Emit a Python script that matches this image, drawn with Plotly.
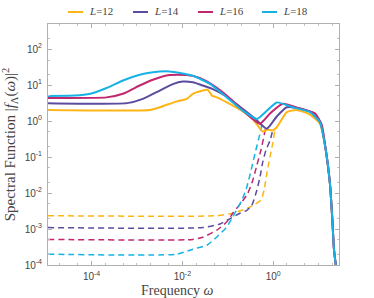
import plotly.graph_objects as go

# log10(omega) and log10(spectral function)
labels = ["L=12", "L=14", "L=16", "L=18"]
colors = ["#FDB515", "#5B4C9E", "#C1276E", "#17B2E5"]

tail_x = [1.16, 1.25, 1.30, 1.34, 1.38]
tail_y = [-0.81, -1.73, -2.67, -3.58, -4.0]

solid_L12_x = [-4.96, -2.72, -2.5, -2.12, -1.90, -1.77, -1.61, -1.44, -1.35, -1.24, -1.02, -0.67, -0.45,
               -0.23, -0.12, -0.01, 0.08, 0.30, 0.52, 0.81, 1.03]
solid_L12_y = [0.31, 0.31, 0.385, 0.55, 0.62, 0.76, 0.83, 0.87, 0.71, 0.66, 0.52, 0.27, 0.06,
               -0.29, -0.23, -0.26, -0.17, 0.25, 0.31, 0.18, -0.075]

solid_L14_x = [-4.96, -3.22, -2.87, -2.5, -2.21, -1.99, -1.77, -1.55, -1.33, -1.06, -0.73, -0.40, -0.14,
               0.08, 0.30, 0.59, 0.92, 1.05]
solid_L14_y = [0.50, 0.50, 0.62, 0.85, 1.03, 1.10, 1.08, 0.99, 0.89, 0.71, 0.40, 0.07, -0.21,
               0.13, 0.385, 0.35, 0.21, -0.08]

solid_L16_x = [-4.96, -3.67, -3.31, -2.94, -2.65, -2.28, -1.90, -1.62, -1.28, -0.95, -0.62, -0.29, -0.07,
               0.21, 0.59, 0.92, 1.07]
solid_L16_y = [0.645, 0.66, 0.76, 0.99, 1.15, 1.28, 1.28, 1.20, 0.96, 0.63, 0.24, -0.075, 0.21,
               0.48, 0.35, 0.21, -0.10]

solid_L18_x = [-4.96, -4.37, -4.03, -3.67, -3.31, -2.94, -2.65, -2.28, -1.77, -1.40, -1.02, -0.67, -0.36,
               -0.14, 0.08, 0.43, 0.81, 1.03]
solid_L18_y = [0.70, 0.71, 0.76, 0.92, 1.13, 1.29, 1.36, 1.38, 1.26, 1.04, 0.66, 0.29, 0.06,
               0.29, 0.52, 0.385, 0.25, -0.03]

dash_L12_x = [-4.96, -1.24, -0.89, -0.58, -0.40, -0.27, -0.20, -0.14, -0.07, -0.01, 0.04, 0.08]
dash_L12_y = [-2.63, -2.63, -2.56, -2.43, -2.31, -2.20, -1.92, -1.45, -1.00, -0.62, -0.26, -0.18]

dash_L14_x = [-4.96, -1.55, -1.17, -0.95, -0.73, -0.58, -0.47, -0.36, -0.29, -0.23, -0.16, -0.07, -0.01]
dash_L14_y = [-2.96, -2.96, -2.86, -2.71, -2.56, -2.48, -2.34, -1.92, -1.55, -1.14, -0.81, -0.54, -0.26]

dash_L16_x = [-4.96, -1.77, -1.55, -1.24, -1.02, -0.89, -0.69, -0.56, -0.45, -0.36, -0.27, -0.20, -0.16]
dash_L16_y = [-3.29, -3.29, -3.23, -3.03, -2.80, -2.56, -2.25, -2.01, -1.65, -1.23, -0.81, -0.40, -0.12]

dash_L18_x = [-4.96, -2.12, -1.77, -1.46, -1.24, -1.02, -0.89, -0.69, -0.58, -0.47, -0.40, -0.29, -0.23]
dash_L18_y = [-3.70, -3.70, -3.56, -3.45, -3.22, -2.94, -2.66, -2.20, -1.83, -1.28, -0.90, -0.34, 0.02]

y_tickvals = [1e-4, 1e-3, 1e-2, 1e-1, 1e0, 1e1, 1e2]
y_ticktext = ["10<sup>-4</sup>", "10<sup>-3</sup>", "10<sup>-2</sup>", "10<sup>-1</sup>",
              "10<sup>0</sup>", "10<sup>1</sup>", "10<sup>2</sup>"]
x_tickvals = [1e-4, 1e-2, 1e0]
x_ticktext = ["10<sup>-4</sup>", "10<sup>-2</sup>", "10<sup>0</sup>"]

X_RANGE = [-4.96, 1.45]
Y_RANGE = [-4, 2.7]

solids = [(solid_L12_x, solid_L12_y), (solid_L14_x, solid_L14_y),
          (solid_L16_x, solid_L16_y), (solid_L18_x, solid_L18_y)]
dashes = [(dash_L12_x, dash_L12_y), (dash_L14_x, dash_L14_y),
          (dash_L16_x, dash_L16_y), (dash_L18_x, dash_L18_y)]

fig = go.Figure()
for lab, col, (dx, dy) in zip(labels, colors, dashes):
    fig.add_trace(go.Scatter(x=[10 ** v for v in dx], y=[10 ** v for v in dy], mode="lines",
                             line=dict(color=col, width=1.5, dash="6px,4px", shape="spline", smoothing=0.5),
                             showlegend=False, hoverinfo="skip"))
for lab, col, (sx, sy) in zip(labels, colors, solids):
    fig.add_trace(go.Scatter(x=[10 ** v for v in sx + tail_x], y=[10 ** v for v in sy + tail_y],
                             mode="lines", name=lab, showlegend=False,
                             line=dict(color=col, width=2, shape="spline", smoothing=0.5)))
# empty trace so the mirrored top/right axes get drawn
fig.add_trace(go.Scatter(x=[], y=[], xaxis="x2", yaxis="y2", showlegend=False, hoverinfo="skip"))

# hand-drawn legend above the plot (plot area spans 291 x 241 px)
PW, PH = 291.0, 241.0
legend_left_px = [20, 85, 150, 214]  # offsets from plot left edge
for lab, col, x0 in zip(labels, colors, legend_left_px):
    fig.add_shape(type="line", xref="paper", yref="paper",
                  x0=x0 / PW, x1=(x0 + 15) / PW, y0=1 + 12 / PH, y1=1 + 12 / PH,
                  line=dict(color=col, width=2))
    fig.add_annotation(xref="paper", yref="paper", x=(x0 + 19) / PW, y=1 + 12.5 / PH,
                       xanchor="left", yanchor="middle", showarrow=False,
                       text="<i>L</i>=" + lab.split("=")[1],
                       font=dict(family="Liberation Serif, DejaVu Serif", size=11, color="#444"))

# x axis title (sits a little left of the plot centre in the reference)
fig.add_annotation(xref="paper", yref="paper", x=(177 - 48) / PW, y=-25 / PH,
                   xanchor="center", yanchor="middle", showarrow=False,
                   text="Frequency <i>ω</i>",
                   font=dict(family="Liberation Serif, DejaVu Serif", size=14, color="#444"))

tick_style = dict(ticks="inside", ticklen=4, tickcolor="#b0b0b0", showgrid=False, zeroline=False,
                  automargin=False, showline=True, linecolor="#b0b0b0", linewidth=1,
                  minor=dict(ticks="inside", ticklen=2, tickcolor="#c0c0c0", showgrid=False))
label_font = dict(family="Liberation Sans, Arial", size=10, color="#444")

fig.update_layout(
    xaxis=dict(type="log", range=X_RANGE, tickvals=x_tickvals, ticktext=x_ticktext,
               tickfont=label_font, ticklabelstandoff=2, **tick_style),
    yaxis=dict(type="log", range=Y_RANGE, tickvals=y_tickvals, ticktext=y_ticktext,
               tickfont=label_font, ticklabelstandoff=3,
               title=dict(text="Spectral Function |<i>f</i><sub>Λ</sub>(<i>ω</i>)|<sup>2</sup>", standoff=8,
                          font=dict(family="Liberation Serif, DejaVu Serif", size=15, color="#444")),
               **tick_style),
    xaxis2=dict(type="log", range=X_RANGE, tickvals=x_tickvals, overlaying="x", side="top", anchor="y2",
                showticklabels=False, **tick_style),
    yaxis2=dict(type="log", range=Y_RANGE, tickvals=y_tickvals, overlaying="y", side="right", anchor="x2",
                showticklabels=False, **tick_style),
    width=374, height=298, margin=dict(l=48, r=35, t=24, b=33, autoexpand=False),
    plot_bgcolor="white", paper_bgcolor="white", showlegend=False)

# remove the browser's default body margin so the figure fills the 374x298 window exactly
fig.write_html("out.html", config={"displayModeBar": False},
               post_script="document.body.style.margin='0';")
